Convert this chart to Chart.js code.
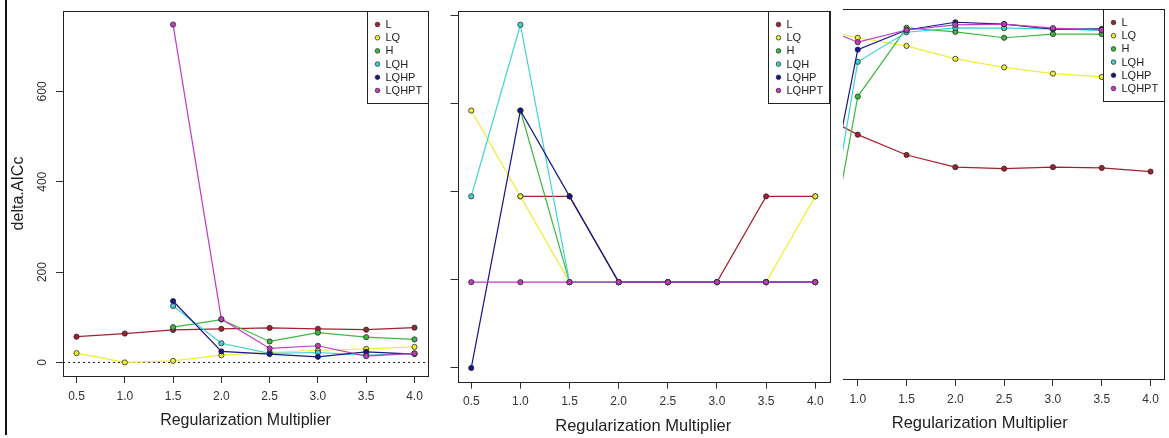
<!DOCTYPE html>
<html>
<head>
<meta charset="utf-8">
<script src="https://cdn.jsdelivr.net/npm/chart.js@4.4.1/dist/chart.umd.min.js"></script>
<style>
  html, body { margin: 0; padding: 0; background: #fff; }
  #wrap { position: relative; width: 1169px; height: 438px; overflow: hidden; background: #fff; }
  .panel { position: absolute; top: 0; height: 438px; overflow: hidden; }
  .panel canvas { position: absolute; top: 0; }
  #edge { position: absolute; left: 5px; top: 0; width: 2px; height: 435px; background: #111; }
</style>
</head>
<body>
<div id="wrap">
  <div class="panel" style="left:0;width:436px"><canvas id="c1" width="434" height="438" style="left:0"></canvas></div>
  <div class="panel" style="left:440px;width:395px"><canvas id="c2" width="395" height="438" style="left:0"></canvas></div>
  <div class="panel" style="left:843px;width:326px"><canvas id="c3" width="409" height="438" style="left:-83px"></canvas></div>
  <div id="edge"></div>
</div>
<script>
// shared
const xValues = [0.5, 1.0, 1.5, 2.0, 2.5, 3.0, 3.5, 4.0];
const seriesNames = ["L", "LQ", "H", "LQH", "LQHP", "LQHPT"];
const seriesColors = ["#a3202e", "#eeee33", "#3cb93c", "#3ed3d3", "#16168a", "#c23ac2"];

// left panel: delta.AICc
const aiccL     = [57, 64, 72, 74.5, 76.5, 74.5, 72.5, 77];
const aiccLQ    = [20.5, 0, 3.5, 16, 22, 27, 30, 34.5];
const aiccH     = [null, null, 78, 95, 46.5, 66, 56, 51];
const aiccLQH   = [null, null, 125, 42.5, 20, 22, 16, 20];
const aiccLQHP  = [null, null, 136, 24.5, 18.5, 12.5, 23.5, 18.5];
const aiccLQHPT = [null, null, 748, 96, 31, 37, 14, 20];
const aiccTicks = [0, 200, 400, 600];

// middle panel (tick labels cut off in the source)
const midL     = [null, 1.95, 1.95, 0.975, 0.975, 0.975, 1.95, 1.95];
const midLQ    = [2.925, 1.95, 0.975, 0.975, 0.975, 0.975, 0.975, 1.95];
const midH     = [null, 2.925, 0.975, 0.975, 0.975, 0.975, 0.975, 0.975];
const midLQH   = [1.95, 3.9, 0.975, 0.975, 0.975, 0.975, 0.975, 0.975];
const midLQHP  = [0, 2.925, 1.95, 0.975, 0.975, 0.975, 0.975, 0.975];
const midLQHPT = [0.975, 0.975, 0.975, 0.975, 0.975, 0.975, 0.975, 0.975];
const midTicks = [0, 1, 2, 3, 4];

// right panel (cropped on the left in the source, y axis not visible)
const rightL     = [0.730, 0.661, 0.606, 0.573, 0.569, 0.573, 0.571, 0.561];
const rightLQ    = [0.953, 0.923, 0.901, 0.866, 0.843, 0.826, 0.817, null];
const rightH     = [0.044, 0.764, 0.950, 0.939, 0.923, 0.933, 0.933, null];
const rightLQH   = [0.081, 0.858, 0.938, 0.950, 0.949, 0.947, 0.943, null];
const rightLQHP  = [0.225, 0.891, 0.944, 0.965, 0.960, 0.946, 0.947, null];
const rightLQHPT = [0.965, 0.911, 0.944, 0.958, 0.960, 0.949, 0.944, null];

Chart.defaults.font.family = "'Liberation Sans', Arial, sans-serif";
Chart.defaults.color = "#333";

// box, legend, zero line and rotated y labels in R style
const rDecor = {
  id: "rDecor",
  beforeDatasetsDraw(chart, args, opts) {
    if (!opts.zeroLine) return;
    const { ctx, chartArea: a } = chart;
    const y = Math.round(chart.scales.y.getPixelForValue(0)) + 0.5;
    ctx.save();
    ctx.strokeStyle = "#222";
    ctx.lineWidth = 1;
    ctx.setLineDash([2, 3]);
    ctx.beginPath();
    ctx.moveTo(a.left, y);
    ctx.lineTo(a.right, y);
    ctx.stroke();
    ctx.restore();
  },
  afterDatasetsDraw(chart, args, opts) {
    const { ctx, chartArea: a } = chart;
    ctx.save();
    ctx.strokeStyle = "#222";
    ctx.lineWidth = 1;
    ctx.strokeRect(Math.round(a.left) + 0.5, Math.round(a.top) + 0.5,
      Math.round(a.right - a.left), Math.round(a.bottom - a.top));

    if (opts.yLabels) {
      ctx.fillStyle = "#333";
      ctx.font = "12px 'Liberation Sans', Arial, sans-serif";
      ctx.textAlign = "center";
      ctx.textBaseline = "middle";
      chart.scales.y.ticks.forEach((t) => {
        const y = chart.scales.y.getPixelForValue(t.value);
        ctx.save();
        ctx.translate(a.left - 20, y);
        ctx.rotate(-Math.PI / 2);
        ctx.fillText(String(t.value), 0, 0);
        ctx.restore();
      });
    }

    // legend, top right
    const w = 61, h = 92;
    const lx = Math.round(a.right - w) + 0.5, ly = Math.round(a.top) + 0.5;
    ctx.fillStyle = "#fff";
    ctx.fillRect(lx, ly, w, h);
    ctx.strokeRect(lx, ly, w, h);
    ctx.font = "11px 'Liberation Sans', Arial, sans-serif";
    ctx.textAlign = "left";
    ctx.textBaseline = "middle";
    chart.data.datasets.forEach((ds, i) => {
      const y = ly + 13 + i * 13.2;
      ctx.beginPath();
      ctx.arc(lx + 10, y, 2.3, 0, Math.PI * 2);
      ctx.fillStyle = ds.pointBackgroundColor;
      ctx.fill();
      ctx.lineWidth = 0.8;
      ctx.strokeStyle = "#333";
      ctx.stroke();
      ctx.fillStyle = "#222";
      ctx.fillText(ds.label, lx + 18, y + 0.5);
    });
    ctx.restore();
  },
};

function makePanel(id, series, p) {
  const datasets = series.map((vals, i) => ({
    label: seriesNames[i],
    data: xValues.map((x, j) => ({ x: x, y: vals[j] })),
    borderColor: seriesColors[i],
    borderWidth: 1.2,
    pointBackgroundColor: seriesColors[i],
    pointBorderColor: "#2a2a2a",
    pointBorderWidth: 0.8,
    pointRadius: 2.6,
    order: seriesNames.length - i,
    tension: 0,
  }));
  return new Chart(document.getElementById(id), {
    type: "line",
    data: { datasets },
    options: {
      responsive: false,
      animation: false,
      devicePixelRatio: 1,
      layout: { padding: { top: p.top, right: p.right, left: 0, bottom: 0 } },
      plugins: {
        legend: { display: false },
        tooltip: { enabled: false },
        rDecor: { zeroLine: p.zeroLine, yLabels: p.yLabels },
      },
      scales: {
        x: {
          type: "linear",
          min: 0.36,
          max: 4.14,
          afterBuildTicks: (s) => { s.ticks = xValues.map((v) => ({ value: v })); },
          afterFit: (s) => { s.height = p.xh; },
          grid: { drawOnChartArea: false, drawTicks: true, tickLength: 7, color: "#333" },
          border: { display: false },
          ticks: {
            autoSkip: false, maxRotation: 0, padding: 6,
            font: { size: 12 }, color: "#333",
            callback: (v) => Number(v).toFixed(1),
          },
          title: {
            display: true, text: "Regularization Multiplier",
            font: { size: p.titleSize }, color: "#222",
            padding: { top: 0, bottom: p.titlePad },
          },
        },
        y: {
          type: "linear",
          min: p.yMin,
          max: p.yMax,
          afterBuildTicks: (s) => { s.ticks = p.yTicks.map((v) => ({ value: v })); },
          afterFit: (s) => { s.width = p.yw; },
          grid: { drawOnChartArea: false, drawTicks: p.yTicks.length > 0, tickLength: 7, color: "#333" },
          border: { display: false },
          ticks: { display: false },
          title: {
            display: !!p.yTitle, text: p.yTitle || "",
            font: { size: 16 }, color: "#222",
            padding: { top: 9, bottom: 0 },
          },
        },
      },
    },
    plugins: [rDecor],
  });
}

makePanel("c1", [aiccL, aiccLQ, aiccH, aiccLQH, aiccLQHP, aiccLQHPT], {
  yMin: -30, yMax: 778, yTicks: aiccTicks, yw: 63, xh: 62, top: 11, right: 6,
  titleSize: 16, titlePad: 8, zeroLine: true, yLabels: true, yTitle: "delta.AICc",
});

makePanel("c2", [midL, midLQ, midH, midLQH, midLQHP, midLQHPT], {
  yMin: -0.156, yMax: 4.056, yTicks: midTicks, yw: 17.5, xh: 56.3, top: 11, right: 6,
  titleSize: 16.5, titlePad: 1.5, zeroLine: false, yLabels: false,
});

makePanel("c3", [rightL, rightLQ, rightH, rightLQH, rightLQHP, rightLQHPT], {
  yMin: 0, yMax: 1, yTicks: [], yw: 35.3, xh: 59, top: 9.3, right: 4,
  titleSize: 16.5, titlePad: 5, zeroLine: false, yLabels: false,
});
</script>
</body>
</html>
